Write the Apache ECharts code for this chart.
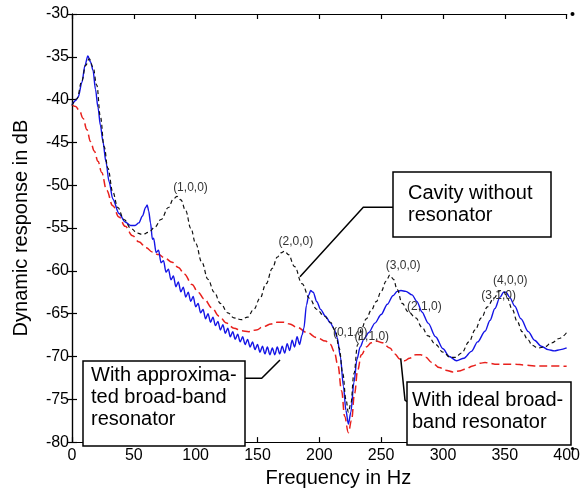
<!DOCTYPE html>
<html>
<head>
<meta charset="utf-8">
<script src="https://cdn.jsdelivr.net/npm/echarts@6/dist/echarts.min.js"></script>
<style>
html,body{margin:0;padding:0;background:#fff;}
#chart{width:583px;height:493px;}
</style>
</head>
<body>
<div id="chart"></div>
<script>
// ---- data ----
var cavityHz = [0,4,8,11,14,17,20,23,26,29,33,37,42,48,53,57,62,67,72,78,82,85,88,92,96,100,105,110,115,120,126,131,137,142,147,152,157,162,166,169,172,175,180,186,192,198,204,209,213,216,219,221.5,223.5,225.5,228,231,234,238,242,246,250,254,257,260,263,267,272,278,283,288,294,300,306,310,315,321,326,331,336,341,346,349,352,356,360,364,369,372,377,382,388,394,400];
var cavityDb = [-40.7,-39.9,-37.8,-36,-35.25,-36.2,-38.3,-42,-45.5,-48,-50.8,-52.6,-54,-55.1,-55.6,-55.75,-55.5,-54.9,-54,-52.6,-51.6,-51.3,-51.7,-53,-55,-56.8,-59,-61,-62.5,-63.8,-64.9,-65.5,-65.7,-65.4,-64.5,-63.2,-61.5,-59.7,-58.4,-57.9,-57.7,-58.1,-59.5,-61.5,-63.2,-64.5,-65.3,-66,-67,-69,-72,-75,-76.5,-75.5,-72,-68.6,-66.8,-65.6,-64.6,-63.6,-62.4,-61.2,-60.5,-61,-62.2,-63.8,-64.8,-65.5,-66.6,-67.6,-68.6,-69.5,-70.1,-70.1,-69.6,-68.3,-66.9,-65.5,-64.2,-63.2,-62.3,-62.4,-63.2,-64.5,-65.9,-67.1,-68.1,-68.7,-69,-68.9,-68.4,-67.9,-67.2];

var approxHz = [0,3,5,8,10.5,12.8,15,17,19,21,23,25,27.5,30,33,38,43,47.5,51,54,57,59.5,60.8,62,63.5,65,
  66,68,70,72,74,76,78,80,82,84,86,88,90,92,94,96,98,100,102,104,106,108,110,112,114,116,118,120,122,124,126,128,130,132,134,136,138,140,142,144,146,148,150,152,154,156,158,160,162,164,166,168,170,172,174,176,178,180,182,184,186,
  187.5,189.6,191.5,193,195,198,201,205,209,212,214.5,217,219.5,221.5,223.5,225.5,228,230.5,233,236,240,245,250,255,259.5,263,266,270,275,279,283,288,294,300,305,311,317,323,328,334,338,342,346,349,351,354,358,363,369,374,379.5,385,390,395,400];
var approxDb = [-40.6,-40.1,-39.7,-38,-36,-34.9,-35.6,-36.6,-38.8,-40.9,-43,-44.9,-47.3,-49.6,-51.6,-53.3,-54.3,-54.7,-54.7,-54.4,-53.6,-52.6,-52.3,-53,-54.4,-56.3,
  -56.2,-57.85,-57.6,-59.05,-58.8,-60.15,-59.8,-61.05,-60.6,-61.85,-61.3,-62.45,-61.9,-63.05,-62.5,-63.55,-63.0,-64.2,-63.8,-64.9,-64.5,-65.6,-65.0,-66.0,-65.4,-66.4,-65.9,-66.9,-66.3,-67.3,-66.7,-67.7,-67.1,-68.0,-67.4,-68.3,-67.7,-68.6,-68.0,-68.9,-68.3,-69.2,-68.6,-69.5,-68.8,-69.7,-68.9,-69.8,-69.0,-69.8,-68.9,-69.7,-68.8,-69.6,-68.5,-69.3,-68.1,-68.9,-67.7,-68.6,-67.5,
  -66.7,-64,-62.8,-62.3,-62.5,-63.6,-64.5,-65.3,-66.1,-66.8,-67.8,-70,-73.5,-76.3,-77.9,-76.5,-73,-70.3,-68.9,-68,-67.2,-66.1,-65.1,-63.9,-62.9,-62.4,-62.3,-62.4,-62.8,-63.6,-64.8,-66.1,-67.7,-69.1,-70,-70.5,-70.2,-69.4,-68.3,-67.05,-65.8,-64.4,-63.1,-62.5,-62.5,-63.1,-64.1,-65.6,-67.1,-68.1,-68.8,-69.2,-69.35,-69.2,-69];

var idealHz = [0,3,6,9,12,15,18,21,24,28,33,38,43,49,54,60,65,70,75,81,86,91,97,102,107,113,119,125,131,137,143,149,155,161,166,171,176,182,190,198,205,209,212,215,218,220.5,223.5,226,228.5,231,234,238,242,246,251,257,261,265,269,273,278,282,286,291,297,302,308,313,318,324,330,334,338,342,350,358,366,374,387,400];
var idealDb = [-40.6,-40.8,-41.3,-42.2,-43.5,-44.9,-46,-47.2,-48.5,-50.6,-52.4,-53.7,-54.8,-55.9,-56.6,-57.3,-57.8,-58.1,-58.5,-59,-59.6,-60.4,-61.6,-62.5,-63.3,-64.3,-65.3,-66.1,-66.7,-67,-67.1,-66.9,-66.5,-66.2,-66,-66,-66.2,-66.6,-67.2,-67.8,-68.2,-68.6,-69.4,-71,-74,-77,-78.9,-77.5,-74.3,-71.6,-69.8,-68.9,-68.4,-68.2,-68.4,-69,-69.7,-70.3,-70.5,-70.2,-69.8,-69.8,-70.1,-70.7,-71.3,-71.6,-71.8,-71.7,-71.5,-71.1,-70.8,-70.7,-70.8,-70.9,-70.9,-70.9,-71,-71.1,-71.1,-71.15];

var modeNames = ['(1,0,0)','(2,0,0)','(1,1,0)','(0,1,0)','(3,0,0)','(2,1,0)','(3,1,0)','(4,0,0)'];
var modeHz = [95.8,181,242.4,225,267.8,285,345,354.4];
var modeDb = [-50.25,-56.6,-67.7,-67.2,-59.4,-64.2,-62.9,-61.1];

var xTicks = [0,50,100,150,200,250,300,350,400];
var yTicks = [-80,-75,-70,-65,-60,-55,-50,-45,-40,-35,-30];

function zip(a,b){var r=[];for(var i=0;i<a.length;i++){r.push([a[i],b[i]]);}return r;}

var FONT = 'Liberation Sans, Arial, sans-serif';
var chart = echarts.init(document.getElementById('chart'), null, {renderer:'canvas'});

var axisCommon = {
  type:'value',
  axisLine:{show:true,lineStyle:{color:'#000',width:1.2}},
  axisTick:{show:true,inside:true,length:5,lineStyle:{color:'#000',width:1.2}},
  splitLine:{show:false}
};

var option = {
  backgroundColor:'#fff',
  animation:false,
  grid:{left:72,right:10.5,top:14,bottom:44.5,containLabel:false},
  xAxis:[
    Object.assign({}, axisCommon, {
      position:'bottom', min:xTicks[0], max:xTicks[xTicks.length-1], interval:50,
      axisLabel:{color:'#000',fontSize:16,fontFamily:FONT,margin:5},
      name:'Frequency in Hz', nameLocation:'middle', nameGap:19,
      nameTextStyle:{color:'#000',fontSize:20,fontFamily:FONT,padding:[0,0,0,38]}
    }),
    Object.assign({}, axisCommon, {
      position:'top', min:xTicks[0], max:xTicks[xTicks.length-1], interval:50,
      axisLabel:{show:false}
    })
  ],
  yAxis:[
    Object.assign({}, axisCommon, {
      position:'left', min:yTicks[0], max:yTicks[yTicks.length-1], interval:5,
      axisLabel:{color:'#000',fontSize:16,fontFamily:FONT,margin:3},
      name:'Dynamic response in dB', nameLocation:'middle', nameGap:41, nameRotate:90,
      nameTextStyle:{color:'#000',fontSize:20,fontFamily:FONT}
    }),
    Object.assign({}, axisCommon, {
      position:'right', min:yTicks[0], max:yTicks[yTicks.length-1], interval:5,
      axisLabel:{show:false}
    })
  ],
  series:[
    {
      type:'line', name:'approx', data:zip(approxHz,approxDb), showSymbol:false, symbol:'none',
      smooth:0.3, smoothMonotone:'x',
      lineStyle:{color:'#1414e6',width:1.4,type:'solid'}, z:3
    },
    {
      type:'line', name:'ideal', data:zip(idealHz,idealDb), showSymbol:false, symbol:'none',
      smooth:0.4, smoothMonotone:'x',
      lineStyle:{color:'#e8201c',width:1.5,type:[8,4]}, z:2
    },
    {
      type:'line', name:'cavity', data:zip(cavityHz,cavityDb), showSymbol:false, symbol:'none',
      smooth:0.4, smoothMonotone:'x',
      lineStyle:{color:'#111',width:1.2,type:[4,3]}, z:4,
      markPoint:{
        symbol:'circle', symbolSize:1, silent:true,
        itemStyle:{color:'rgba(0,0,0,0)'},
        label:{show:true,position:'inside',color:'#333',fontSize:12,fontFamily:FONT,
          formatter:function(p){return p.name;}},
        data: modeNames.map(function(n,i){return {name:n,coord:[modeHz[i],modeDb[i]]};})
      }
    }
  ],
  graphic:[
    // annotation boxes
    {type:'rect',shape:{x:393,y:172,width:158,height:65},style:{fill:'#fff',stroke:'#000',lineWidth:1.5},z:100},
    {type:'text',x:408,y:182,style:{text:'Cavity without\nresonator',font:'20px '+FONT,fill:'#000',lineHeight:22,verticalAlign:'top'},z:101},
    {type:'rect',shape:{x:83,y:361,width:162,height:85},style:{fill:'#fff',stroke:'#000',lineWidth:1.5},z:100},
    {type:'text',x:91,y:364,style:{text:'With approxima-\nted broad-band\nresonator',font:'20px '+FONT,fill:'#000',lineHeight:22,verticalAlign:'top'},z:101},
    {type:'rect',shape:{x:407,y:382,width:164,height:63},style:{fill:'#fff',stroke:'#000',lineWidth:1.5},z:100},
    {type:'text',x:412,y:389,style:{text:'With ideal broad-\nband resonator',font:'20px '+FONT,fill:'#000',lineHeight:22,verticalAlign:'top'},z:101},
    // leader lines
    {type:'polyline',shape:{points:[[393,207.3],[363.3,207.3],[300,276.7]]},style:{stroke:'#000',lineWidth:1.5,fill:null},z:99},
    {type:'polyline',shape:{points:[[245,378.3],[261.7,378.3],[280,360]]},style:{stroke:'#000',lineWidth:1.5,fill:null},z:99},
    {type:'polyline',shape:{points:[[400.7,358.3],[405,400],[407,401.7]]},style:{stroke:'#000',lineWidth:1.5,fill:null},z:99},
    // corner dots
    {type:'circle',shape:{cx:572.5,cy:14,r:2},style:{fill:'#000'},z:98},
    {type:'circle',shape:{cx:572.5,cy:448.5,r:1.6},style:{fill:'#000'},z:98}
  ]
};
chart.setOption(option);
</script>
</body>
</html>
